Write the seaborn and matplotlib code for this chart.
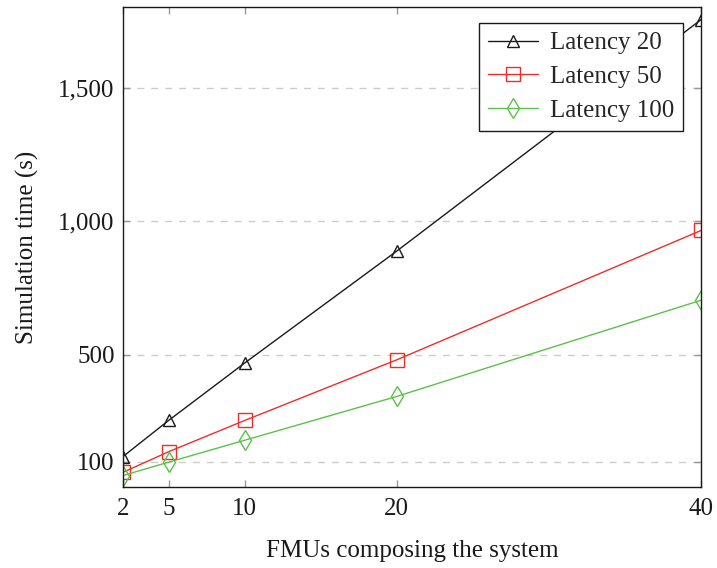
import matplotlib
matplotlib.use("Agg")
import matplotlib.pyplot as plt
import seaborn as sns
import pandas as pd

fmus = [2, 5, 10, 20, 40]
latency_20 = [119, 254, 469, 888, 1754]
latency_50 = [60, 137, 254, 481, 965]
latency_100 = [48, 98, 180, 344, 704]
series_names = ["Latency 20", "Latency 50", "Latency 100"]
y_ticks = [100, 500, 1000, 1500]
y_tick_labels = ["100", "500", "1,000", "1,500"]

sns.set_style("ticks")
plt.rcParams["font.family"] = ["Liberation Serif", "DejaVu Serif"]

fig = plt.figure(figsize=(7.17, 5.68), dpi=100)
ax = fig.add_axes([0.1715, 0.1426, 0.9777 - 0.1715, 0.987 - 0.1426])

styles = [
    dict(color="#1a1a1a", marker="^", markersize=8),
    dict(color="#e8302a", marker="s", markersize=9.5),
    dict(color="#5cc04a", marker="d", markersize=10),
]
for name, vals, st in zip(series_names, [latency_20, latency_50, latency_100], styles):
    df = pd.DataFrame({"x": fmus, "y": vals})
    sns.lineplot(data=df, x="x", y="y", ax=ax, label=name,
                 color=st["color"], marker=st["marker"], markersize=st["markersize"],
                 markerfacecolor="none", markeredgecolor=st["color"],
                 markeredgewidth=1.0, linewidth=1.0)

ax.set_xlim(2, 40)
ax.set_ylim(5, 1800)
ax.set_xticks(fmus)
ax.set_xticklabels([str(v) for v in fmus])
ax.set_yticks(y_ticks)
ax.set_yticklabels(y_tick_labels)
ax.yaxis.grid(True, linestyle=(0, (5, 5)), color="#cccccc", linewidth=1.0)
ax.set_axisbelow(True)

ax.tick_params(direction="in", length=5, width=1.0, color="#999999",
               top=True, right=True, labelsize=18, labelcolor="#1a1a1a")
ax.tick_params(axis="x", pad=8)
ax.tick_params(axis="y", pad=6)
for s in ax.spines.values():
    s.set_color("#1a1a1a")
    s.set_linewidth(1.0)

ax.set_xlabel("FMUs composing the system", fontsize=18, color="#1a1a1a", labelpad=14)
ax.set_ylabel("Simulation time (s)", fontsize=18, color="#1a1a1a", labelpad=14)

leg = ax.legend(loc="upper right", fontsize=18, frameon=True,
                fancybox=False, edgecolor="#1a1a1a", framealpha=1,
                handlelength=2.0, handletextpad=0.5, borderpad=0.35,
                labelspacing=0.45, borderaxespad=0)
leg.set_bbox_to_anchor((683/717, 1 - 23/568), transform=fig.transFigure)
leg.get_frame().set_linewidth(1.0)

fig.savefig("out.png", dpi=100)
